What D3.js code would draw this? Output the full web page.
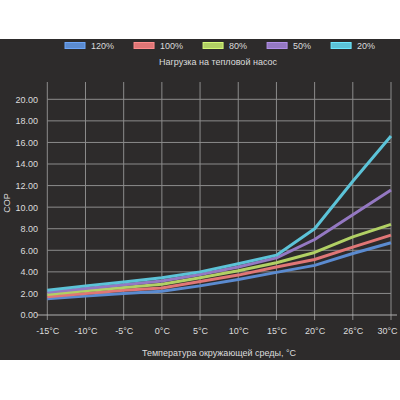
<!DOCTYPE html>
<html>
<head>
<meta charset="utf-8">
<script src="https://cdn.jsdelivr.net/npm/d3@7"></script>
<style>
  body { margin: 0; background: #fff; }
  svg { display: block; font-family: "Liberation Sans", Arial, sans-serif; }
</style>
</head>
<body>
<script>
const temps = ["-15°C", "-10°C", "-5°C", "0°C", "5°C", "10°C", "15°C", "20°C", "26°C", "30°C"];
const loadNames = ["120%", "100%", "80%", "50%", "20%"];
const colors = ["#5b8bd0", "#e07676", "#b1d064", "#9478c2", "#5cc3d8"];
const cop120 = [1.5, 1.75, 2.0, 2.2, 2.7, 3.3, 3.95, 4.6, 5.7, 6.7];
const cop100 = [1.7, 2.0, 2.3, 2.5, 3.1, 3.7, 4.45, 5.15, 6.3, 7.4];
const cop80 = [1.9, 2.25, 2.55, 2.85, 3.45, 4.1, 4.85, 5.8, 7.25, 8.4];
const cop50 = [2.1, 2.45, 2.8, 3.15, 3.75, 4.45, 5.3, 7.0, 9.3, 11.6];
const cop20 = [2.3, 2.7, 3.05, 3.45, 4.0, 4.75, 5.55, 8.0, 12.4, 16.6];
const yTicks = [0, 2, 4, 6, 8, 10, 12, 14, 16, 18, 20];

const seriesValues = [cop120, cop100, cop80, cop50, cop20];

let width = 400;
let height = 400;
const textColor = "#dcdcdc";
const gridColor = "#8c8c8c";

const svg = d3.select("body")
  .append("svg")
  .attr("width", width)
  .attr("height", height);

// dark panel
svg.append("rect")
  .attr("x", 0)
  .attr("y", 39)
  .attr("width", width)
  .attr("height", 321)
  .attr("fill", "#2d2b2b");

const x = d3.scalePoint().domain(temps).range([47.3, 391]);
const y = d3.scaleLinear().domain([0, 20]).range([315, 99.3]);

// vertical grid
svg.append("g")
  .selectAll("line")
  .data(temps)
  .enter()
  .append("line")
  .attr("x1", (d) => x(d))
  .attr("x2", (d) => x(d))
  .attr("y1", 82)
  .attr("y2", 320)
  .attr("stroke", gridColor)
  .attr("stroke-width", 1);

// horizontal grid
svg.append("g")
  .selectAll("line")
  .data(yTicks.slice(1))
  .enter()
  .append("line")
  .attr("x1", 47.3)
  .attr("x2", 391)
  .attr("y1", (d) => y(d))
  .attr("y2", (d) => y(d))
  .attr("stroke", gridColor)
  .attr("stroke-width", 1);

// x axis line
svg.append("line")
  .attr("x1", 37)
  .attr("x2", 397)
  .attr("y1", y(0))
  .attr("y2", y(0))
  .attr("stroke", "#b0b0b0")
  .attr("stroke-width", 1);

// y axis labels
const yAxis = svg.append("g")
  .attr("transform", "translate(47,0)")
  .call(d3.axisLeft(y).tickValues(yTicks).tickFormat(d3.format(".2f")).tickSize(0).tickPadding(9));
yAxis.select(".domain").remove();
yAxis.selectAll("text")
  .attr("fill", textColor)
  .style("font-size", "9px")
  .style("font-family", "Liberation Sans, Arial, sans-serif");

// x axis labels
const xAxis = svg.append("g")
  .attr("transform", "translate(0," + y(0) + ")")
  .call(d3.axisBottom(x).tickSize(0).tickPadding(13));
xAxis.select(".domain").remove();
xAxis.selectAll("text")
  .attr("fill", textColor)
  .style("font-size", "9px")
  .style("font-family", "Liberation Sans, Arial, sans-serif");
// last label pulled in so it stays inside the panel
xAxis.selectAll(".tick")
  .filter((d) => d === temps[temps.length - 1])
  .select("text")
  .attr("text-anchor", "end")
  .attr("x", 397 - x(temps[temps.length - 1]));

// lines
const line = d3.line()
  .x((d, i) => x(temps[i]))
  .y((d) => y(d));

svg.append("g")
  .selectAll("path")
  .data(seriesValues)
  .enter()
  .append("path")
  .attr("d", (d) => line(d))
  .attr("fill", "none")
  .attr("stroke", (d, i) => colors[i])
  .attr("stroke-width", 3)
  .attr("stroke-linejoin", "round");

// axis titles
svg.append("text")
  .attr("x", 219)
  .attr("y", 356)
  .attr("text-anchor", "middle")
  .attr("fill", textColor)
  .style("font-size", "9px")
  .text("Температура окружающей среды, °C");

svg.append("text")
  .attr("transform", "translate(10,203) rotate(-90)")
  .attr("text-anchor", "middle")
  .attr("fill", textColor)
  .style("font-size", "9px")
  .text("COP");

// legend
const legend = svg.append("g");
let lx = 65;
loadNames.forEach((name, i) => {
  legend.append("rect")
    .attr("x", lx)
    .attr("y", 42.5)
    .attr("width", 20)
    .attr("height", 6)
    .attr("fill", colors[i])
    .attr("stroke", d3.color(colors[i]).brighter(0.5))
    .attr("stroke-width", 1);
  const t = legend.append("text")
    .attr("x", lx + 26)
    .attr("y", 48.7)
    .attr("fill", textColor)
    .style("font-size", "9px")
    .text(name);
  lx += 26 + t.node().getComputedTextLength() + 20;
});

svg.append("text")
  .attr("x", 218)
  .attr("y", 64.5)
  .attr("text-anchor", "middle")
  .attr("fill", textColor)
  .style("font-size", "9px")
  .text("Нагрузка на тепловой насос");
</script>
</body>
</html>
